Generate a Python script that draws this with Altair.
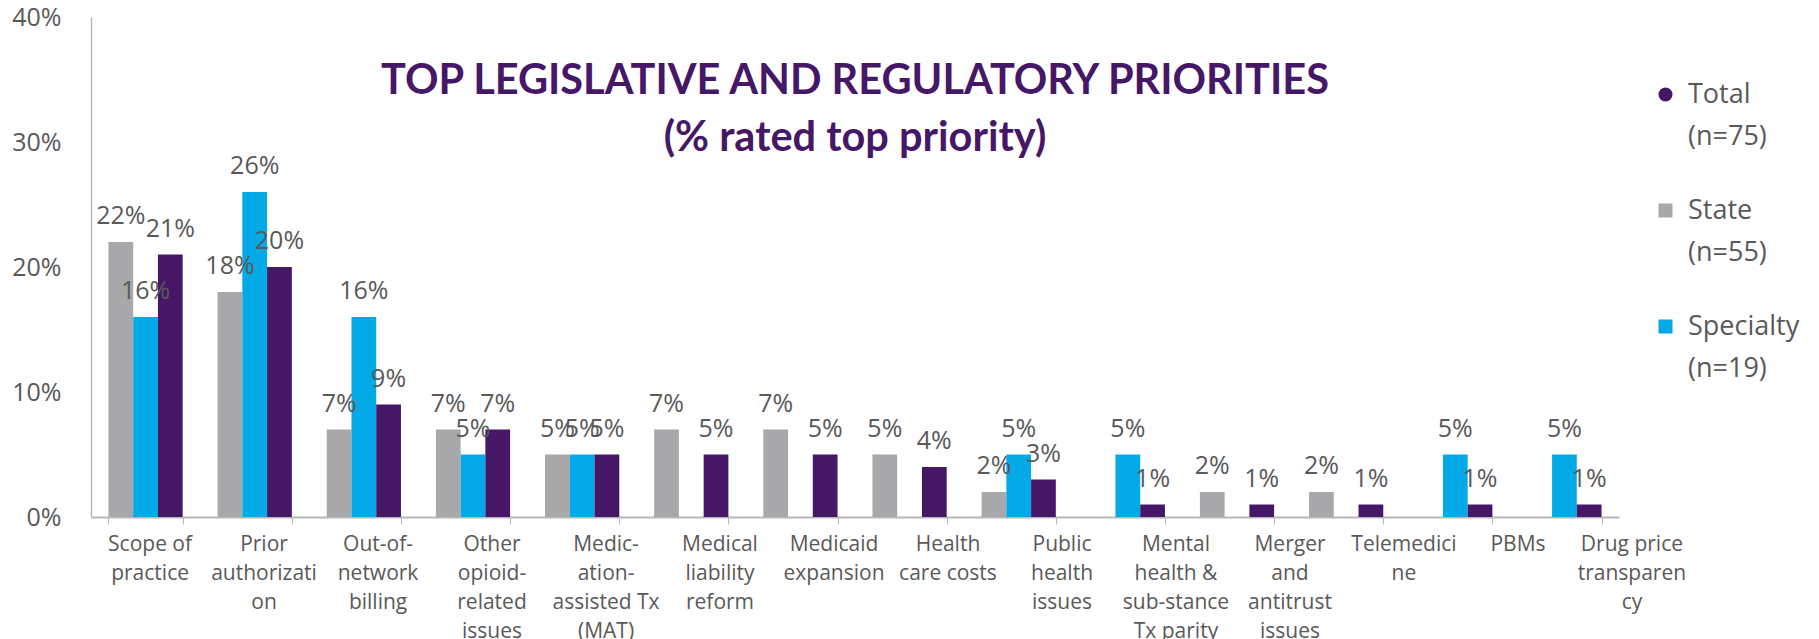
import json
import altair as alt
import pandas as pd

# ---- data ----
categories = [
    "Scope of\npractice",
    "Prior\nauthorizati\non",
    "Out-of-\nnetwork\nbilling",
    "Other\nopioid-\nrelated\nissues",
    "Medic-\nation-\nassisted Tx\n(MAT)",
    "Medical\nliability\nreform",
    "Medicaid\nexpansion",
    "Health\ncare costs",
    "Public\nhealth\nissues",
    "Mental\nhealth &\nsub-stance\nTx parity",
    "Merger\nand\nantitrust\nissues",
    "Telemedici\nne",
    "PBMs",
    "Drug price\ntransparen\ncy",
]
state = [22, 18, 7, 7, 5, 7, 7, 5, 2, 0, 2, 2, 0, 0]
specialty = [16, 26, 16, 5, 5, 0, 0, 0, 5, 5, 0, 0, 5, 5]
total = [21, 20, 9, 7, 5, 5, 5, 4, 3, 1, 1, 1, 1, 1]

legend_names = ["Total", "State", "Specialty"]
legend_n = ["(n=75)", "(n=55)", "(n=19)"]
bar_order = ["State", "Specialty", "Total"]
y_ticks = [0, 10, 20, 30, 40]

title_lines = ["TOP LEGISLATIVE AND REGULATORY PRIORITIES", "(% rated top priority)"]

# ---- styling ----
PURPLE = "#471767"
GRAY = "#A8A8AA"
BLUE = "#04A9E7"
TEXT = "#595959"
AXIS = "#B8B8B8"
FONT = "Open Sans"
TITLE_FONT = "Lato"

rows = []
for i, c in enumerate(categories):
    rows.append({"category": c, "series": "State", "value": state[i]})
    rows.append({"category": c, "series": "Specialty", "value": specialty[i]})
    rows.append({"category": c, "series": "Total", "value": total[i]})
df = pd.DataFrame(rows)

# labels in the reference drift slightly right relative to the bands
label_offsets = [
    {"test": f"datum.value === {json.dumps(c)}", "value": round(4 + 4.85 * i, 1)}
    for i, c in enumerate(categories)
]

x_enc = alt.X(
    "category:N",
    sort=categories,
    scale=alt.Scale(paddingInner=0.32, paddingOuter=0.16),
    axis=alt.Axis(
        title=None,
        labelAngle=0,
        labelExpr="split(datum.label, '\\n')",
        labelFont=FONT,
        labelFontSize=21,
        labelLineHeight=29,
        labelColor=TEXT,
        labelLimit=0,
        labelOverlap=False,
        labelPadding=9,
        labelOffset={"condition": label_offsets, "value": 0},
        tickBand="extent",
        tickSize=7,
        tickColor=AXIS,
        domainColor=AXIS,
        domainWidth=2,
    ),
)
xoff_enc = alt.XOffset("series:N", sort=bar_order,
                       scale=alt.Scale(domain=bar_order, paddingInner=0, paddingOuter=0))
y_enc = alt.Y(
    "value:Q",
    scale=alt.Scale(domain=[0, 40], nice=False),
    axis=alt.Axis(
        title=None,
        values=y_ticks,
        labelExpr="datum.value + '%'",
        labelFont=FONT,
        labelFontSize=25,
        labelColor=TEXT,
        labelPadding=30,
        ticks=False,
        tickSize=0,
        grid=False,
        domainColor=AXIS,
        domainWidth=1.5,
    ),
)

legend_expr = " : ".join(
    f"datum.label === '{n}' ? ['{n}', '{c}']" for n, c in zip(legend_names, legend_n)
) + " : datum.label"

color_scale = alt.Scale(domain=legend_names, range=[PURPLE, GRAY, BLUE])
legend = alt.Legend(
    title=None,
    orient="none",
    legendX=1561,
    legendY=64,
    padding=0,
    labelExpr=legend_expr,
    labelFont=FONT,
    labelFontSize=27,
    labelColor=TEXT,
    labelBaseline="middle",
    labelOffset=9,
    labelLimit=0,
    symbolSize=196,
    rowPadding=46,
)

bars = alt.Chart(df).mark_bar().encode(
    x=x_enc,
    xOffset=xoff_enc,
    y=y_enc,
    color=alt.Color("series:N", scale=color_scale, legend=legend),
)

labels = alt.Chart(df).transform_filter("datum.value > 0").transform_calculate(
    label="datum.value + '%'"
).mark_text(
    font=FONT, fontSize=25, color=TEXT, baseline="alphabetic", dy=-18
).encode(
    x=alt.X("category:N", sort=categories),
    xOffset=alt.XOffset("series:N", sort=bar_order),
    y="value:Q",
    text=alt.Text("label:N"),
)

legend_shapes = alt.Chart(df).transform_filter("false").mark_point(filled=True, opacity=1).encode(
    color=alt.Color("series:N", scale=color_scale, legend=legend),
    shape=alt.Shape("series:N",
                    scale=alt.Scale(domain=legend_names, range=["circle", "square", "square"]),
                    legend=legend),
)

chart = alt.layer(bars, labels, legend_shapes).properties(
    width=1528,
    height=500,
    padding={"left": 3, "top": -3, "right": 0, "bottom": 0},
    title=alt.TitleParams(
        text=title_lines,
        font=TITLE_FONT,
        fontSize=41.5,
        fontWeight="bold",
        color=PURPLE,
        anchor="middle",
        orient="top",
        frame="group",
        offset=-154,
        lineHeight=57,
    ),
).configure(
    background="white",
    view=alt.ViewConfig(stroke="transparent"),
    style={"guide-label": {"lineHeight": 42}},
)

chart.save("out.html", embed_options={"renderer": "svg", "actions": False})
